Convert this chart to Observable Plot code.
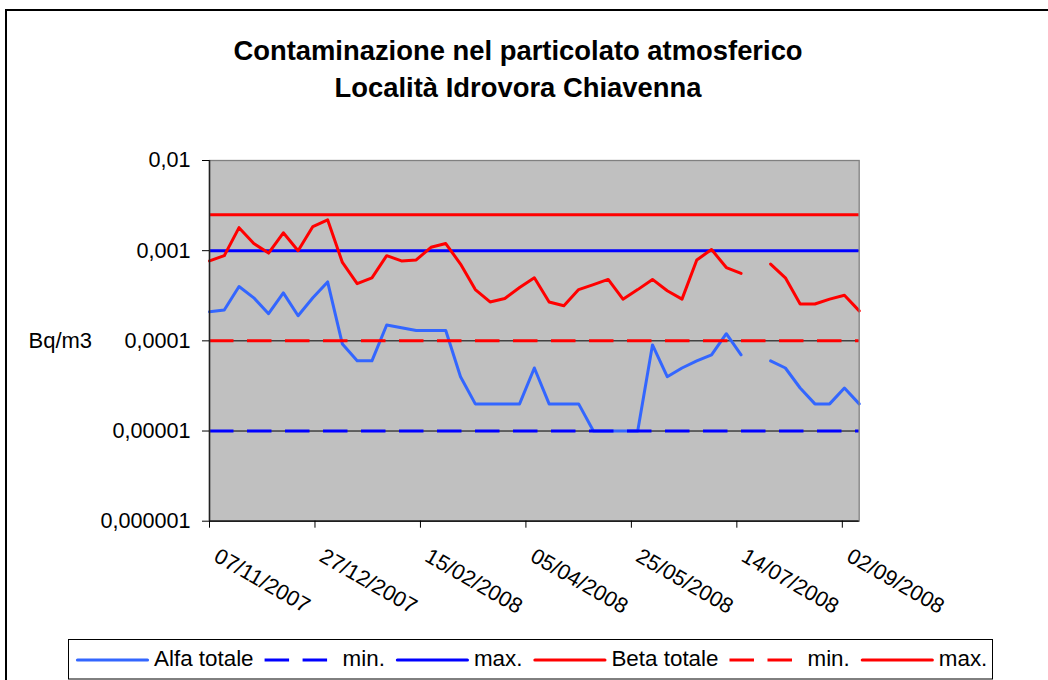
<!DOCTYPE html>
<html><head><meta charset="utf-8">
<script src="https://cdn.jsdelivr.net/npm/d3@7"></script>
<script src="https://cdn.jsdelivr.net/npm/@observablehq/plot@0.6"></script>
<style>
html,body{margin:0;padding:0;background:#fff;}
#wrap{position:relative;width:1048px;height:680px;overflow:hidden;font-family:"Liberation Sans",Arial,sans-serif;}
#border{position:absolute;left:5px;top:9px;width:1100px;height:800px;border-left:2px solid #000;border-top:2px solid #000;}
#chart{position:absolute;left:0;top:0;}
#title{position:absolute;left:0;top:32px;width:1036px;text-align:center;font-weight:bold;font-size:27.4px;line-height:37px;color:#000;}
#legend{position:absolute;left:68px;top:639px;}
</style></head><body>
<div id="wrap">
<div id="border"></div>
<div id="chart"></div>
<div id="title">Contaminazione nel particolato atmosferico<br>Località Idrovora Chiavenna</div>
<svg id="legend"></svg>
</div>
<script>
// ---- data ----
const dates = [
  "2007-11-07","2007-11-14","2007-11-21","2007-11-28","2007-12-05","2007-12-12","2007-12-19","2007-12-26",
  "2008-01-02","2008-01-09","2008-01-16","2008-01-23","2008-01-30","2008-02-06","2008-02-13","2008-02-20",
  "2008-02-27","2008-03-05","2008-03-12","2008-03-19","2008-03-26","2008-04-02","2008-04-09","2008-04-16",
  "2008-04-23","2008-04-30","2008-05-07","2008-05-14","2008-05-21","2008-05-28","2008-06-04","2008-06-11",
  "2008-06-18","2008-06-25","2008-07-02","2008-07-09","2008-07-16","2008-07-23","2008-07-30","2008-08-06",
  "2008-08-13","2008-08-20","2008-08-27","2008-09-03","2008-09-10"
];
const alfaTotale = [
  0.00021,0.00022,0.00040,0.00030,0.00020,0.00034,0.00019,0.00030,
  0.00045,0.000092,0.00006,0.00006,0.00015,0.00014,0.00013,0.00013,
  0.00013,0.00004,0.00002,0.00002,0.00002,0.00002,0.00005,0.00002,
  0.00002,0.00002,0.00001,0.00001,0.00001,0.00001,0.00009,0.00004,
  0.00005,0.00006,0.00007,0.00012,0.00007,null,0.00006,0.00005,
  0.00003,0.00002,0.00002,0.00003,0.00002
];
const betaTotale = [
  0.00077,0.00088,0.0018,0.0012,0.00094,0.00158,0.0010,0.00185,
  0.0022,0.00074,0.00043,0.00050,0.00088,0.00077,0.00079,0.00109,
  0.0012,0.00071,0.00037,0.00027,0.000295,0.00039,0.00050,0.00027,
  0.000245,0.00037,0.00042,0.00048,0.00029,0.00037,0.00048,0.00036,
  0.00029,0.00079,0.00103,0.00065,0.00056,null,0.00071,0.00050,
  0.000256,0.000256,0.00029,0.00032,0.000215
];
const alfaMin = 0.00001, alfaMax = 0.001;
const betaMin = 0.0001, betaMax = 0.0025;
const xTicks = ["2007-11-07","2007-12-27","2008-02-15","2008-04-05","2008-05-25","2008-07-14","2008-09-02"];
const yTicks = [0.000001, 0.00001, 0.0001, 0.001, 0.01];
const yTickLabels = ["0,000001","0,00001","0,0001","0,001","0,01"];
const yLabel = "Bq/m3";
const seriesNames = ["Alfa totale","min.","max.","Beta totale","min.","max."];

// ---- styles ----
const cAlfa = "#3366FF", cBlue = "#0000FF", cRed = "#FF0000";
const dash = "24.5,13.5";
const seriesStyles = [
  {color:cAlfa, dash:null},{color:cBlue, dash:dash},{color:cBlue, dash:null},
  {color:cRed, dash:null},{color:cRed, dash:dash},{color:cRed, dash:null}
];

const rows = dates.map((d,i)=>({date:new Date(d), alfa:alfaTotale[i], beta:betaTotale[i]}));
const xTickDates = xTicks.map(d=>new Date(d));
const fmt = d3.utcFormat("%d/%m/%Y");
const H = 630;

const chart = Plot.plot({
  width: 1048, height: H,
  marginLeft: 209, marginRight: 189.3, marginTop: 160, marginBottom: H - 520.7,
  style: {fontFamily:"Liberation Sans, Arial, sans-serif", fontSize:"21.6px", background:"transparent", color:"#000", overflow:"visible"},
  x: {type:"utc", domain:[new Date(dates[0]), new Date(dates[dates.length-1])]},
  y: {type:"log", domain:[yTicks[0], yTicks[yTicks.length-1]]},
  marks: [
    Plot.frame({fill:"#C0C0C0"}),
    Plot.ruleY(yTicks, {stroke:"#000", strokeWidth:1}),
    Plot.line(rows, {x:"date", y:"alfa", stroke:cAlfa, strokeWidth:3}),
    Plot.ruleY([alfaMin], {stroke:cBlue, strokeWidth:3, strokeDasharray:dash}),
    Plot.ruleY([alfaMax], {stroke:cBlue, strokeWidth:3}),
    Plot.line(rows, {x:"date", y:"beta", stroke:cRed, strokeWidth:3}),
    Plot.ruleY([betaMin], {stroke:cRed, strokeWidth:3, strokeDasharray:dash}),
    Plot.ruleY([betaMax], {stroke:cRed, strokeWidth:3}),
    Plot.frame({stroke:"#808080", strokeWidth:1.3}),
    Plot.ruleX([new Date(dates[0])], {stroke:"#222", strokeWidth:1.5}),
    Plot.ruleY([yTicks[0]], {stroke:"#000", strokeWidth:1.3}),
    Plot.axisY({ticks:yTicks, tickSize:7, tickPadding:12, tickFormat:d=>yTickLabels[yTicks.indexOf(d)], label:null, fontSize:21.6}),
    Plot.axisX({ticks:xTickDates, tickSize:7, tickFormat:()=>"", label:null}),
    Plot.text(xTickDates, {x:d=>d, frameAnchor:"bottom", text:d=>fmt(d), rotate:30, textAnchor:"start", lineAnchor:"middle", dx:6.5, dy:33, fontSize:21.6, fill:"#000"}),
    Plot.text([yLabel], {frameAnchor:"left", text:d=>d, textAnchor:"start", dx:-181, fontSize:22, fill:"#000"})
  ]
});
document.getElementById("chart").appendChild(chart);

// ---- legend ----
const lg = d3.select("#legend").attr("width", 926).attr("height", 42);
lg.append("rect").attr("x",0.5).attr("y",0.5).attr("width",924).attr("height",39.5)
  .attr("fill","#fff").attr("stroke","#000").attr("stroke-width",1);
let lx = 8;
seriesNames.forEach((name,i)=>{
  const s = seriesStyles[i];
  lg.append("line").attr("x1",lx + (s.dash?0:1.5)).attr("x2",lx+73 - (s.dash?0:1.5)).attr("y1",21).attr("y2",21)
    .attr("stroke",s.color).attr("stroke-width",3.2)
    .attr("stroke-linecap", s.dash ? "butt" : "round")
    .attr("stroke-dasharray", s.dash ? "24.5,13.5" : null);
  const t = lg.append("text").attr("x", lx+78).attr("y",26.5)
    .attr("font-family","Liberation Sans, Arial, sans-serif").attr("font-size","22.4px").attr("fill","#000").text(name);
  lx = lx + 78 + t.node().getComputedTextLength() + 11;
});
</script>
</body></html>
